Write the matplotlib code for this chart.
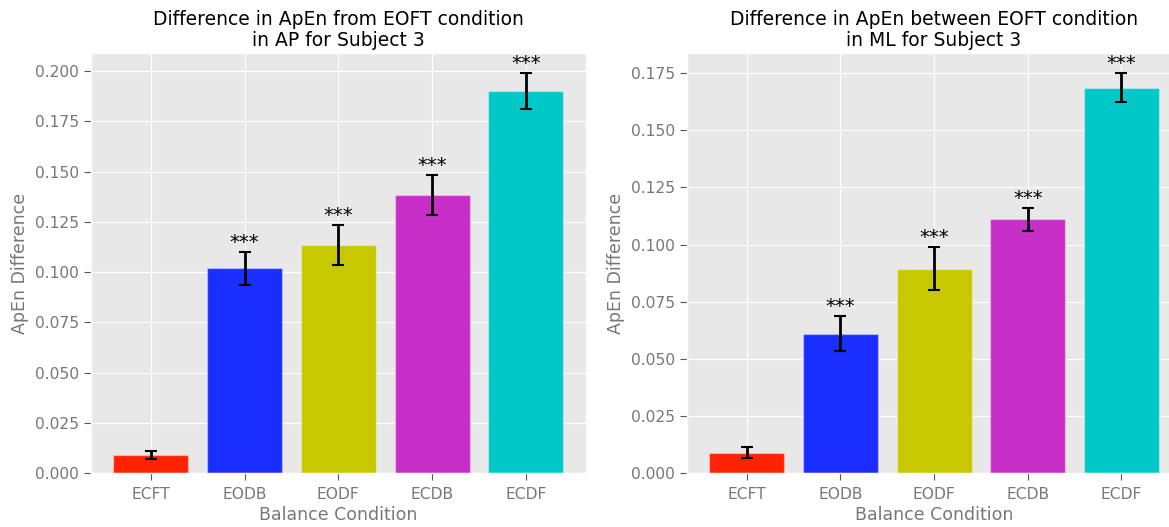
import matplotlib
matplotlib.use("Agg")
import matplotlib.pyplot as plt

plt.style.use("ggplot")

categories = ["ECFT", "EODB", "EODF", "ECDB", "ECDF"]
ap_values = [0.0091, 0.1018, 0.1136, 0.1384, 0.1902]
ap_errors = [0.0021, 0.0080, 0.0100, 0.0100, 0.0089]
ml_values = [0.0090, 0.0611, 0.0895, 0.1110, 0.1686]
ml_errors = [0.0023, 0.0077, 0.0094, 0.0051, 0.0065]
bar_colors = ["#ff2200", "#1a2eff", "#c8c800", "#c82ec8", "#00c8c8"]
stars = ["", "***", "***", "***", "***"]

titles = ["Difference in ApEn from EOFT condition\nin AP for Subject 3",
          "Difference in ApEn between EOFT condition\nin ML for Subject 3"]

W, H = 1169, 527
fig = plt.figure(figsize=(W / 100, H / 100), dpi=100)
fig.patch.set_facecolor("white")

ax_w = 494.7 / W
ax_h = (473.3 - 52.7) / H
bottom = (H - 473.3) / H
lefts = [91 / W, 686.7 / W]

for i, (vals, errs) in enumerate([(ap_values, ap_errors), (ml_values, ml_errors)]):
    ax = fig.add_axes([lefts[i], bottom, ax_w, ax_h])
    ax.set_facecolor("#e8e8e8")
    x = list(range(len(categories)))
    ax.bar(x, vals, width=0.8, color=bar_colors, yerr=errs, capsize=4,
           error_kw=dict(ecolor="black", elinewidth=2, capthick=1.5),
           edgecolor=[(1, 1, 1, 0.35)] * 5, linewidth=1)
    for xi, v, e, s in zip(x, vals, errs, stars):
        if s:
            ax.text(xi, v + e, s, ha="center", va="bottom", fontsize=14, color="black")
    ax.set_xticks(x)
    ax.set_xticklabels(categories)
    ax.tick_params(axis="both", labelsize=11.2, colors="#555555", length=5)
    ax.tick_params(axis="x", pad=5)
    for lab in ax.get_xticklabels() + ax.get_yticklabels():
        lab.set_color("#777777")
    ax.yaxis.set_major_formatter(matplotlib.ticker.FormatStrFormatter("%.3f"))
    ax.set_xlabel("Balance Condition", fontsize=12.5, color="#777777", labelpad=3)
    ax.set_ylabel("ApEn Difference", fontsize=12.5, color="#777777")
    ax.set_title(titles[i], fontsize=13.5, color="black", pad=5, linespacing=1.1)

fig.savefig("out.png", dpi=100)
